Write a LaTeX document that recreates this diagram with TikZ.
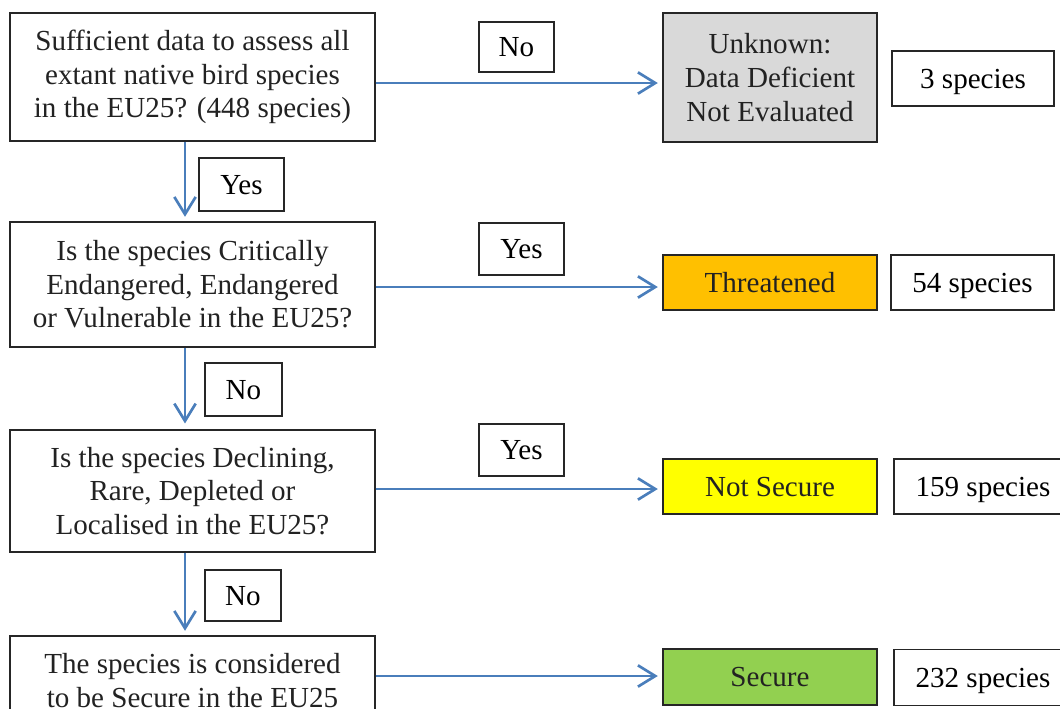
\documentclass[tikz,border=0pt]{standalone}
\usepackage{fontspec}
\setmainfont{Liberation Serif}
\usetikzlibrary{arrows.meta}
\definecolor{arrowblue}{HTML}{4A7EBB}
\definecolor{ddgray}{HTML}{D9D9D9}
\definecolor{thrOrange}{HTML}{FFC000}
\definecolor{nsYellow}{HTML}{FFFF00}
\definecolor{secGreen}{HTML}{92D050}
\definecolor{txt}{HTML}{222222}
\tikzset{
  qbox/.style={draw=black!85, line width=0.8pt, inner sep=0pt, align=center,
    text=txt, font=\fontsize{21.8}{25.2}\selectfont},
  onebox/.style={qbox, text depth=0pt},
  lbl/.style={draw=black!85, line width=0.8pt, inner sep=0pt, align=center,
    text=black, text depth=0pt, font=\fontsize{21.8}{25.2}\selectfont},
  flow/.style={draw=arrowblue, line width=2pt,
    -{Straight Barb[length=13pt,width=16pt,line width=2pt]}},
}
\begin{document}
\begin{tikzpicture}[x=0.75pt,y=-0.75pt]
\useasboundingbox (0,0) rectangle (1060,708);
\clip (0,0) rectangle (1060,708);
% question boxes
\node[qbox, minimum width=273.75pt, minimum height=96pt] (q1) at (192.5,77)
  {Sufficient data to assess all\\extant native bird species\\in the EU25? (448 species)};
\node[qbox, minimum width=273.75pt, minimum height=93.75pt] (q2) at (192.5,284.5)
  {Is the species Critically\\Endangered, Endangered\\or Vulnerable in the EU25?};
\node[qbox, minimum width=273.75pt, minimum height=91.5pt] (q3) at (192.5,491)
  {Is the species Declining,\\Rare, Depleted or\\Localised in the EU25?};
\node[qbox, minimum width=273.75pt, minimum height=91.5pt] (q4) at (192.5,697)
  {The species is considered\\to be Secure in the EU25\\\phantom{X}};
% result boxes
\node[qbox, fill=ddgray, minimum width=160.5pt, minimum height=96.75pt] (r1) at (770,77.5)
  {Unknown:\\Data Deficient\\Not Evaluated};
\node[onebox, fill=thrOrange, minimum width=160.5pt, minimum height=41.25pt] (r2) at (770,282.5)
  {Threatened};
\node[onebox, fill=nsYellow, minimum width=160.5pt, minimum height=41.25pt] (r3) at (770,486.5)
  {Not Secure};
\node[onebox, fill=secGreen, minimum width=160.5pt, minimum height=42pt] (r4) at (770,677)
  {Secure};
% count boxes
\node[lbl, minimum width=121.5pt, minimum height=41.25pt] (c1) at (973,78.5) {3 species};
\node[lbl, minimum width=122.25pt, minimum height=41.25pt] (c2) at (972.5,282.5) {54 species};
\node[lbl, minimum width=133.5pt, minimum height=41.25pt] (c3) at (983,486.5) {159 species};
\node[lbl, minimum width=133.5pt, minimum height=42pt] (c4) at (983,677.5) {232 species};
% decision labels
\node[lbl, minimum width=56.25pt, minimum height=37.5pt] (n1) at (516.5,47) {No};
\node[lbl, minimum width=63.75pt, minimum height=39.75pt] (y1) at (241.5,184.5) {Yes};
\node[lbl, minimum width=63.75pt, minimum height=39pt] (y2) at (521.5,249) {Yes};
\node[lbl, minimum width=57.75pt, minimum height=39.75pt] (n2) at (243.5,389.5) {No};
\node[lbl, minimum width=63.75pt, minimum height=39pt] (y3) at (521.5,450) {Yes};
\node[lbl, minimum width=57pt, minimum height=38.25pt] (n3) at (243,595.5) {No};
% horizontal connectors
\draw[flow, shorten >=3.5pt] (q1.east |- 0,83) -- (r1.west |- 0,83);
\draw[flow, shorten >=3.5pt] (q2.east |- 0,287) -- (r2.west |- 0,287);
\draw[flow, shorten >=3.5pt] (q3.east |- 0,489) -- (r3.west |- 0,489);
\draw[flow, shorten >=3.5pt] (q4.east |- 0,676) -- (r4.west |- 0,676);
% vertical connectors
\draw[flow, shorten >=3.5pt] (q1.south -| 185,0) -- (q2.north -| 185,0);
\draw[flow, shorten >=4.5pt] (q2.south -| 185,0) -- (q3.north -| 185,0);
\draw[flow, shorten >=3.5pt] (q3.south -| 185,0) -- (q4.north -| 185,0);
\end{tikzpicture}
\end{document}
